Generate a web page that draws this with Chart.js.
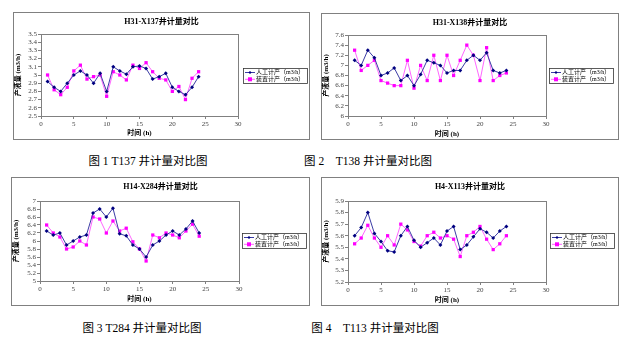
<!DOCTYPE html>
<html>
<head>
<meta charset="utf-8">
<script src="https://cdn.jsdelivr.net/npm/chart.js@4/dist/chart.umd.min.js"></script>
<style>
  body { margin: 0; width: 631px; height: 346px; background: #fff; position: relative; overflow: hidden; }
  canvas { position: absolute; }
  .cap { position: absolute; width: 200px; text-align: center; white-space: pre; line-height: 14px;
         font: 11.5px "Liberation Serif", "Noto Sans CJK SC", serif; color: #000; }
</style>
</head>
<body>
<canvas id="c1" width="297" height="128" style="left:13px;top:12px"></canvas>
<canvas id="c2" width="298" height="127" style="left:321px;top:13px"></canvas>
<canvas id="c3" width="299" height="129" style="left:11px;top:177px"></canvas>
<canvas id="c4" width="298" height="129" style="left:321px;top:177px"></canvas>
<div class="cap" style="left:48px;top:152px">图 1 T137 井计量对比图</div>
<div class="cap" style="left:268px;top:152px">图 2    T138 井计量对比图</div>
<div class="cap" style="left:42px;top:319px">图 3 T284 井计量对比图</div>
<div class="cap" style="left:275px;top:319px">图 4    T113 井计量对比图</div>
<script>
// --- DONNÉES ---
const hours = [1,2,3,4,5,6,7,8,9,10,11,12,13,14,15,16,17,18,19,20,21,22,23,24];
const seriesNames = ['人工计产（m3/h）', '装置计产（m3/h）'];
const xTicks = [0, 30, 5];

const t137Manual = [2.92,2.85,2.80,2.90,3.00,3.05,3.00,2.90,3.02,2.80,3.10,3.05,3.01,3.10,3.11,3.08,2.95,2.98,3.02,2.85,2.80,2.76,2.85,2.98];
const t137Device = [3.00,2.82,2.76,2.85,3.05,3.12,2.95,2.98,3.00,2.74,3.04,3.00,2.94,3.12,3.08,3.15,3.04,2.96,2.94,2.80,2.86,2.70,2.96,3.04];
const t137Y = [2.5, 3.5, 0.1];

const t138Manual = [7.10,7.00,7.30,7.15,6.80,6.85,6.95,6.70,6.80,6.60,6.82,7.10,7.05,7.00,6.85,6.90,6.90,7.10,7.20,7.10,7.25,6.90,6.85,6.90];
const t138Device = [7.30,6.90,7.00,7.10,6.70,6.65,6.60,6.60,7.10,6.55,7.00,6.70,7.20,6.70,7.20,6.80,7.10,7.40,7.20,6.70,7.35,6.70,6.80,6.85];
const t138Y = [6, 7.6, 0.2];

const t284Manual = [6.25,6.15,6.20,5.90,6.00,6.10,6.15,6.70,6.80,6.60,6.82,6.18,6.13,5.90,5.80,5.60,5.90,6.00,6.15,6.25,6.15,6.30,6.50,6.20];
const t284Device = [6.40,6.20,6.10,5.80,5.85,6.00,5.90,6.60,6.55,6.20,6.50,6.25,6.32,5.98,5.80,5.50,6.15,6.08,6.20,6.15,6.08,6.25,6.42,6.12];
const t284Y = [5, 7, 0.2];

const t113Manual = [5.60,5.67,5.80,5.62,5.55,5.47,5.46,5.60,5.68,5.56,5.50,5.54,5.58,5.52,5.64,5.68,5.48,5.52,5.59,5.66,5.63,5.58,5.64,5.68];
const t113Device = [5.53,5.58,5.69,5.58,5.50,5.60,5.52,5.70,5.65,5.55,5.51,5.60,5.63,5.58,5.60,5.57,5.42,5.60,5.63,5.68,5.57,5.48,5.53,5.60];
const t113Y = [5.2, 5.9, 0.1];

// --- STYLES ---
const SERIF = '"Liberation Serif", "Noto Sans CJK SC", serif';
const BLUE_LINE = '#3c3ca6', BLUE_PT = '#000080';
const PINK_LINE = '#ff66ff', PINK_PT = '#ff00ff';

// cadre, titres et légende dessinés à la main
const decor = {
  id: 'decor',
  beforeDraw(chart) {
    const { ctx, width, height } = chart;
    ctx.save();
    ctx.fillStyle = '#fff';
    ctx.fillRect(0, 0, width, height);
    ctx.strokeStyle = '#808080';
    ctx.lineWidth = 1;
    ctx.strokeRect(0.5, 0.5, width - 1, height - 1);
    ctx.restore();
  },
  beforeDatasetsDraw(chart) {
    const { ctx, chartArea: a } = chart;
    ctx.save();
    ctx.strokeStyle = '#808080';
    ctx.lineWidth = 1;
    ctx.strokeRect(Math.round(a.left) + 0.5, Math.round(a.top) + 0.5,
                   Math.round(a.right - a.left), Math.round(a.bottom - a.top));
    ctx.restore();
  },
  afterDraw(chart, args, o) {
    const { ctx, chartArea: a, width } = chart;
    ctx.save();
    ctx.fillStyle = '#000';
    ctx.textAlign = 'center';
    ctx.textBaseline = 'middle';
    // titre
    ctx.font = 'bold 8px ' + SERIF;
    ctx.fillText(o.title, width / 2, 10);
    // titres des axes
    ctx.font = 'bold 7px ' + SERIF;
    ctx.fillText('时间 (h)', (a.left + a.right) / 2, o.xTitleY);
    ctx.save();
    ctx.translate(5.5, (a.top + a.bottom) / 2);
    ctx.rotate(-Math.PI / 2);
    ctx.fillText('产液量 (m3/h)', 0, 0);
    ctx.restore();
    // légende
    const lx = o.legend[0], ly = o.legend[1];
    ctx.strokeStyle = '#333';
    ctx.lineWidth = 0.8;
    ctx.strokeRect(lx + 0.5, ly + 0.5, 64, 15);
    ctx.font = '6px ' + SERIF;
    ctx.textAlign = 'left';
    chart.data.datasets.forEach((ds, k) => {
      const y = ly + 4.5 + k * 6.8;
      ctx.strokeStyle = ds.borderColor;
      ctx.lineWidth = 1;
      ctx.beginPath();
      ctx.moveTo(lx + 2, y);
      ctx.lineTo(lx + 12, y);
      ctx.stroke();
      ctx.fillStyle = ds.pointBackgroundColor;
      const r = k === 0 ? 1.6 : 2;
      if (k === 0) {
        ctx.beginPath();
        ctx.moveTo(lx + 7, y - r); ctx.lineTo(lx + 7 + r, y);
        ctx.lineTo(lx + 7, y + r); ctx.lineTo(lx + 7 - r, y);
        ctx.fill();
      } else {
        ctx.fillRect(lx + 7 - r, y - r, 2 * r, 2 * r);
      }
      ctx.fillStyle = '#000';
      ctx.fillText(ds.label, lx + 13, y + 0.3);
    });
    ctx.restore();
  }
};

function tickFmt(v) { return String(+v.toFixed(2)); }

function makeChart(id, title, manual, device, yr, g) {
  const cv = document.getElementById(id);
  const w = cv.width, h = cv.height;
  return new Chart(cv, {
    type: 'line',
    data: {
      datasets: [
        { label: seriesNames[0], data: hours.map((x, i) => ({ x, y: manual[i] })),
          borderColor: BLUE_LINE, borderWidth: 1, pointStyle: 'rectRot', pointRadius: 2,
          pointBackgroundColor: BLUE_PT, pointBorderColor: BLUE_PT, pointBorderWidth: 0 },
        { label: seriesNames[1], data: hours.map((x, i) => ({ x, y: device[i] })),
          borderColor: PINK_LINE, borderWidth: 1, pointStyle: 'rect', pointRadius: 2.3,
          pointBackgroundColor: PINK_PT, pointBorderColor: PINK_PT, pointBorderWidth: 0 }
      ]
    },
    options: {
      responsive: false,
      animation: false,
      devicePixelRatio: 1,
      layout: { padding: { left: 0, top: g.t, right: w - g.r, bottom: 0 } },
      plugins: {
        legend: { display: false },
        tooltip: { enabled: false },
        decor: { title, legend: g.legend, xTitleY: g.xt }
      },
      scales: {
        x: {
          type: 'linear', min: xTicks[0], max: xTicks[1],
          ticks: { stepSize: xTicks[2], autoSkip: false, padding: 1, color: '#444', font: { family: SERIF, size: 7 }, maxRotation: 0 },
          grid: { drawOnChartArea: false, tickLength: 3, color: '#808080' },
          border: { display: false },
          afterFit(s) { s.height = h - g.b; }
        },
        y: {
          min: yr[0], max: yr[1],
          ticks: { stepSize: yr[2], autoSkip: false, padding: 1, color: '#444', font: { family: SERIF, size: 7 }, callback: tickFmt },
          grid: { drawOnChartArea: false, tickLength: 3, color: '#808080' },
          border: { display: false },
          afterFit(s) { s.width = g.l; }
        }
      }
    },
    plugins: [decor]
  });
}

makeChart('c1', 'H31-X137井计量对比', t137Manual, t137Device, t137Y, { l: 28, r: 225, t: 22, b: 104, legend: [230, 56], xt: 121 });
makeChart('c2', 'H31-X138井计量对比', t138Manual, t138Device, t138Y, { l: 27, r: 225, t: 22, b: 103, legend: [228, 55], xt: 121 });
makeChart('c3', 'H14-X284井计量对比', t284Manual, t284Device, t284Y, { l: 29, r: 228, t: 24, b: 104, legend: [231, 56], xt: 122 });
makeChart('c4', 'H4-X113井计量对比', t113Manual, t113Device, t113Y, { l: 27, r: 225, t: 24, b: 105, legend: [229, 56], xt: 123 });
</script>
</body>
</html>
